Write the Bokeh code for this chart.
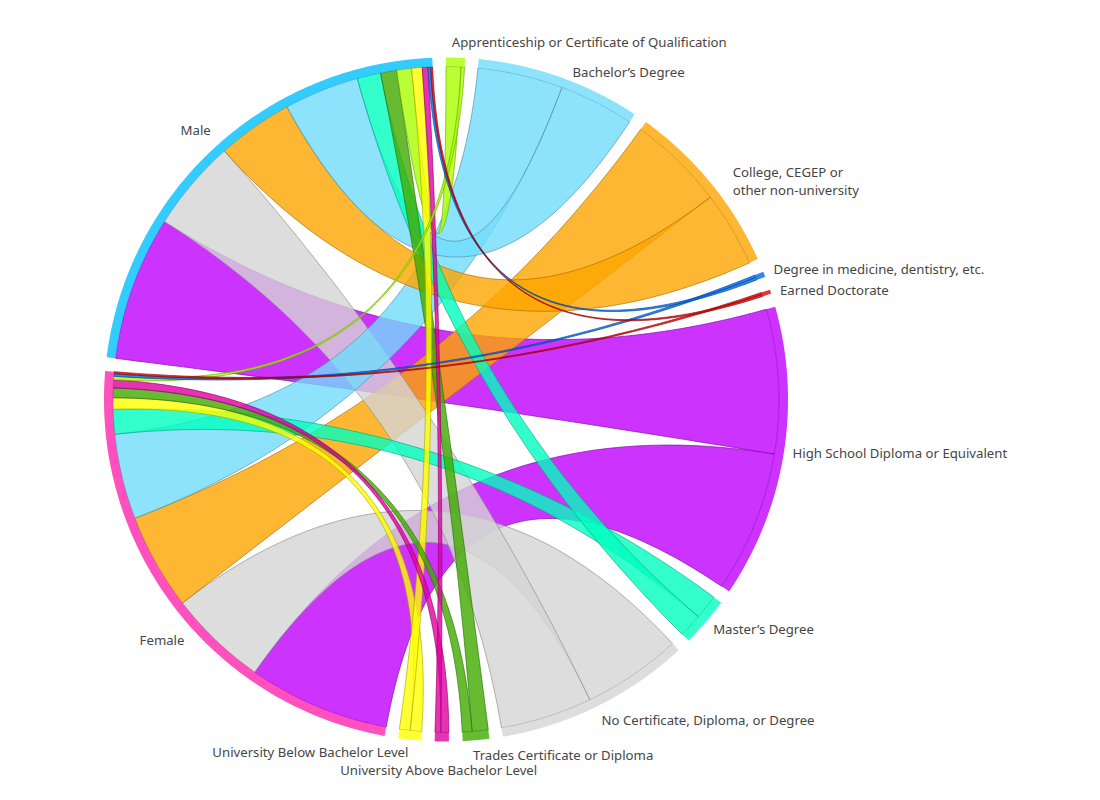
import numpy as np
from bokeh.plotting import figure
from bokeh.models import ColumnDataSource, Range1d
from bokeh.core.properties import value
from bokeh.embed import file_html
from bokeh.resources import INLINE

# ---------------- data ----------------
categories = [
    "Apprenticeship or Certificate of Qualification",
    "Bachelor\u2019s Degree",
    "College, CEGEP or\nother non-university",
    "Degree in medicine, dentistry, etc.",
    "Earned Doctorate",
    "High School Diploma or Equivalent",
    "Master\u2019s Degree",
    "No Certificate, Diploma, or Degree",
    "Trades Certificate or Diploma",
    "University Above Bachelor Level",
    "University Below Bachelor Level",
]
male_values = [2.6, 13.1, 13.2, 0.45, 0.35, 25.2, 4.1, 16.0, 2.8, 1.0, 1.85]
female_values = [0.6, 14.9, 16.8, 0.45, 0.35, 24.7, 4.3, 17.3, 1.7, 1.4, 2.0]
genders = ["Female", "Male"]

cat_colors = ["#a7ff00", "#72dcfb", "#fca500", "#0068ec", "#e00000", "#bf00ff",
              "#00ffbf", "#d4d4d4", "#40aa00", "#e000a1", "#ffff00"]
gender_colors = ["#ff24ae", "#00bfff"]

# ---------------- layout ----------------
CX, CY = 445.5, 399.0
R_IN, R_OUT = 333.0, 342.0
GAP = 2.3
ALPHA = 0.8

gender_vals = {"Female": female_values, "Male": male_values}
node_names = categories + genders
node_totals = [m + f for m, f in zip(male_values, female_values)] + [sum(female_values), sum(male_values)]
deg_per = (360.0 - GAP * len(node_names)) / sum(node_totals)

node_span = []
cur = 0.0
for t in node_totals:
    node_span.append((cur, cur + t * deg_per))
    cur += t * deg_per + GAP

slot_g = {}
slot_c = {}
for gi, g in enumerate(genders):
    s0, _ = node_span[len(categories) + gi]
    order = sorted(range(len(categories)), key=lambda i: -gender_vals[g][i])
    a = s0
    for i in order:
        w = gender_vals[g][i] * deg_per
        slot_g[(g, i)] = (a, a + w)
        a += w
for i in range(len(categories)):
    s0, _ = node_span[i]
    order = sorted(genders, key=lambda g: -gender_vals[g][i])
    a = s0
    for g in order:
        w = gender_vals[g][i] * deg_per
        slot_c[(g, i)] = (a, a + w)
        a += w


def pt(theta, r):
    t = np.radians(theta)
    return CX + r * np.sin(t), CY - r * np.cos(t)


def arc(t1, t2, r):
    n = max(3, int(abs(t2 - t1) * 2) + 2)
    th = np.linspace(t1, t2, n)
    x, y = pt(th, r)
    return list(x), list(y)


def quad(p0, p2, n=60):
    t = np.linspace(0, 1, n)
    x = (1 - t) ** 2 * p0[0] + 2 * (1 - t) * t * CX + t ** 2 * p2[0]
    y = (1 - t) ** 2 * p0[1] + 2 * (1 - t) * t * CY + t ** 2 * p2[1]
    return list(x), list(y)


def darker(hexc, f=0.65):
    h = hexc.lstrip("#")
    r, g, b = (int(h[k:k + 2], 16) for k in (0, 2, 4))
    return "#%02x%02x%02x" % (int(r * f), int(g * f), int(b * f))


links = []
for g in genders:
    for i in range(len(categories)):
        links.append((gender_vals[g][i], g, i))
links.sort(key=lambda x: -x[0])

lx, ly, lfill, lline = [], [], [], []
for v, g, i in links:
    a1, a2 = slot_g[(g, i)]
    b1, b2 = slot_c[(g, i)]
    xs, ys = [], []
    x, y = arc(a1, a2, R_IN); xs += x; ys += y
    x, y = quad(pt(a2, R_IN), pt(b1, R_IN)); xs += x; ys += y
    x, y = arc(b1, b2, R_IN); xs += x; ys += y
    x, y = quad(pt(b2, R_IN), pt(a1, R_IN)); xs += x; ys += y
    lx.append(xs); ly.append(ys)
    lfill.append(cat_colors[i]); lline.append(darker(cat_colors[i]))

nx, ny, nfill = [], [], []
all_colors = cat_colors + gender_colors
for k, (s, e) in enumerate(node_span):
    xo, yo = arc(s, e, R_OUT)
    xi, yi = arc(e, s, R_IN)
    nx.append(xo + xi); ny.append(yo + yi); nfill.append(all_colors[k])

# labels
R_LAB = 352.0
label_offsets = {
    0: (-4, -6), 1: (9, 4), 2: (14, 4), 3: (0, -2), 4: (0, 2), 5: (-1, -3),
    6: (0, 0), 7: (0, 5), 8: (-4, 5), 9: (-3, 19), 10: (0, 3), 11: (18, 27), 12: (3, -10),
}
tx, ty, tt, ta = [], [], [], []
for k, (s, e) in enumerate(node_span):
    m = (s + e) / 2
    x, y = pt(m, R_LAB)
    dx, dy = label_offsets[k]
    tx.append(x + dx); ty.append(y + dy); tt.append(node_names[k])
    sn = np.sin(np.radians(m))
    if 178 <= m <= 182:
        ta.append("center")
    elif sn >= 0:
        ta.append("left")
    else:
        ta.append("right")

# ---------------- figure ----------------
p = figure(width=1084, height=784, output_backend="svg", toolbar_location=None,
           x_range=Range1d(0, 1084), y_range=Range1d(784, 0),
           x_axis_type=None, y_axis_type=None, min_border=0)
p.grid.visible = False
p.outline_line_color = None
p.background_fill_color = "white"

p.patches(xs="xs", ys="ys", source=ColumnDataSource(dict(xs=lx, ys=ly, fc=lfill, lc=lline)),
          fill_color="fc", fill_alpha=ALPHA, line_color="lc", line_alpha=0.8, line_width=0.8)
p.patches(xs="xs", ys="ys", source=ColumnDataSource(dict(xs=nx, ys=ny, fc=nfill)),
          fill_color="fc", fill_alpha=ALPHA, line_color=None)
p.text(x="x", y="y", text="text", text_align="align",
       source=ColumnDataSource(dict(x=tx, y=ty, text=tt, align=ta)),
       text_baseline="middle", text_font=value("Noto Sans"), text_font_size="13.2px",
       text_color="#454545", text_line_height=1.0)

open("out.html", "w").write(file_html(p, INLINE))
